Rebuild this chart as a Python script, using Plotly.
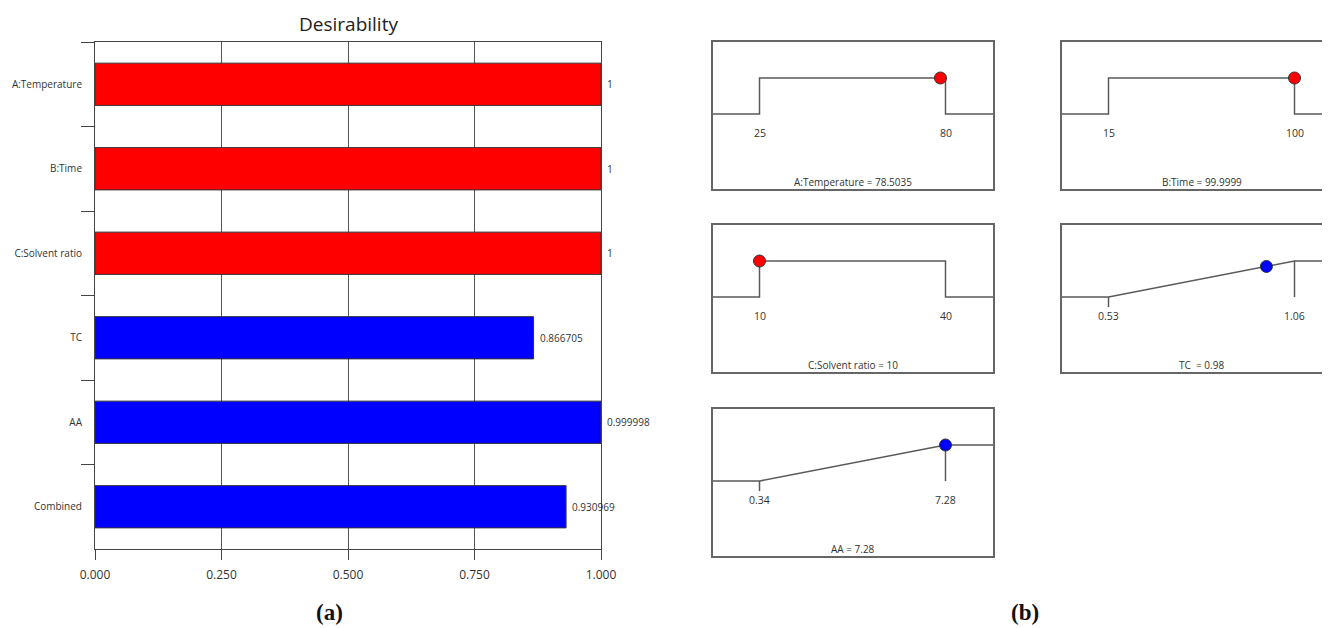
import plotly.graph_objects as go

# ---------------- data ----------------
categories = ["A:Temperature", "B:Time", "C:Solvent ratio", "TC", "AA", "Combined"]
desirability = [1.0, 1.0, 1.0, 0.866705, 0.999998, 0.930969]
bar_colors = ["#FF0000", "#FF0000", "#FF0000", "#0000FF", "#0000FF", "#0000FF"]
x_ticks = [0.0, 0.25, 0.5, 0.75, 1.0]

panel_names = ["A:Temperature", "B:Time", "C:Solvent ratio", "TC ", "AA"]
panel_low = [25, 15, 10, 0.53, 0.34]
panel_high = [80, 100, 40, 1.06, 7.28]
panel_opt = [78.5035, 99.9999, 10, 0.98, 7.28]
panel_kind = ["range", "range", "range", "max", "max"]
panel_color = ["#FF0000", "#FF0000", "#FF0000", "#0000FF", "#0000FF"]

# ---------------- layout helpers ----------------
W, H = 1330, 628
OFF = 8  # page body margin
def px(x):
    return (x - OFF) / W
def py(y):
    return 1 - (y - OFF) / H

FONT = "Open Sans"
TXT = "#333333"
LINE = "#5a5a5a"

fig = go.Figure()

# ---------------- (a) desirability bar chart ----------------
fig.add_trace(go.Bar(
    x=desirability, y=categories, orientation="h",
    marker=dict(color=bar_colors, line=dict(color="#333333", width=1)),
    width=0.5, xaxis="x", yaxis="y", showlegend=False, hoverinfo="x+y",
))
for c, v in zip(categories, desirability):
    fig.add_annotation(x=v, y=c, xref="x", yref="y", text=f"{v:g}", showarrow=False,
                       xanchor="left", xshift=4, font=dict(size=10, color=TXT, family=FONT))

fig.update_layout(
    xaxis=dict(domain=[px(95), px(601)], range=[0, 1], tickvals=x_ticks,
               ticktext=[f"{t:.3f}" for t in x_ticks], ticks="outside", ticklen=10,
               tickcolor="#444", showline=True, linecolor="#444", linewidth=1, mirror=True,
               showgrid=True, gridcolor="#555", gridwidth=1, zeroline=False, automargin=False,
               ticklabelstandoff=5,
               tickfont=dict(size=12, color=TXT, family=FONT), anchor="y", fixedrange=True),
    yaxis=dict(domain=[py(549), py(42)], type="category", autorange="reversed",
               tickson="boundaries", ticks="outside", ticklen=13, tickcolor="#444",
               showline=True, linecolor="#444", linewidth=1, mirror=True, showgrid=False,
               automargin=False, ticklabelstandoff=10,
               tickfont=dict(size=10, color=TXT, family=FONT), anchor="x", fixedrange=True),
)
fig.add_annotation(x=(px(95) + px(601)) / 2, y=py(24), xref="paper", yref="paper",
                   text="Desirability", showarrow=False, xanchor="center", yanchor="middle",
                   font=dict(size=19, color="#222", family=FONT))
fig.add_annotation(x=px(329), y=py(612), xref="paper", yref="paper", text="<b>(a)</b>",
                   showarrow=False, xanchor="center", yanchor="middle",
                   font=dict(size=23, color="#111", family="Liberation Serif"))
fig.add_annotation(x=px(1025), y=py(612), xref="paper", yref="paper", text="<b>(b)</b>",
                   showarrow=False, xanchor="center", yanchor="middle",
                   font=dict(size=23, color="#111", family="Liberation Serif"))

# ---------------- (b) ramp panels ----------------
boxes = [(713, 42, 993), (1062, 42, 1330), (713, 225, 993), (1062, 225, 1330), (713, 409, 993)]
SPAN, INSET, BOXH = 186.0, 46.5, 147.0
Y_TOP, Y_BOT = 2.0, -(BOXH - 72) / 36.0

for i, (name, lo, hi, opt, kind, col, (bl, bt, br)) in enumerate(zip(
        panel_names, panel_low, panel_high, panel_opt, panel_kind, panel_color, boxes)):
    n = i + 2
    d = hi - lo
    x0 = lo - INSET / SPAN * d
    x1 = x0 + (br - bl) / SPAN * d
    xa, ya = f"x{n}", f"y{n}"
    right_cut = br >= W
    fig.layout[f"xaxis{n}"] = dict(domain=[px(bl), px(br)], range=[x0, x1], visible=True,
                                   showticklabels=False, ticks="", showgrid=False, zeroline=False,
                                   showline=True, linecolor="#666", linewidth=1.5, mirror=True,
                                   automargin=False, anchor=ya, fixedrange=True)
    fig.layout[f"yaxis{n}"] = dict(domain=[py(bt + BOXH), py(bt)], range=[Y_BOT, Y_TOP],
                                   showticklabels=False, ticks="", showgrid=False, zeroline=False,
                                   showline=True, linecolor="#666", linewidth=1.5,
                                   automargin=False,
                                   mirror=not right_cut, anchor=xa, fixedrange=True)
    if kind == "range":
        xs = [x0, lo, lo, hi, hi, x1]
        ys = [0, 0, 1, 1, 0, 0]
        fig.add_trace(go.Scatter(x=xs, y=ys, mode="lines", line=dict(color=LINE, width=1.5),
                                 xaxis=xa, yaxis=ya, showlegend=False, hoverinfo="skip"))
        opt_d = 1.0 if lo <= opt <= hi else 0.0
    else:
        xs = [x0, lo, hi, x1]
        ys = [0, 0, 1, 1]
        fig.add_trace(go.Scatter(x=xs, y=ys, mode="lines", line=dict(color=LINE, width=1.5),
                                 xaxis=xa, yaxis=ya, showlegend=False, hoverinfo="skip"))
        fig.add_trace(go.Scatter(x=[hi, hi], y=[1, 0], mode="lines", line=dict(color=LINE, width=1.5),
                                 xaxis=xa, yaxis=ya, showlegend=False, hoverinfo="skip"))
        fig.add_trace(go.Scatter(x=[lo, lo], y=[0, -0.28], mode="lines", line=dict(color=LINE, width=1.5),
                                 xaxis=xa, yaxis=ya, showlegend=False, hoverinfo="skip"))
        opt_d = min(1.0, max(0.0, (opt - lo) / d))
    fig.add_trace(go.Scatter(x=[opt], y=[opt_d], mode="markers",
                             marker=dict(size=12, color=col, line=dict(color="#333", width=1)),
                             xaxis=xa, yaxis=ya, showlegend=False, cliponaxis=False,
                             hovertemplate=f"{name.strip()} = {opt:g}<extra></extra>"))
    for v in (lo, hi):
        fig.add_annotation(x=v, y=-0.53, xref=xa, yref=ya, text=f"{v:g}", showarrow=False,
                           font=dict(size=10.5, color=TXT, family=FONT))
    label = name.replace(" ", "\u00a0") + "\u00a0= " if name.endswith(" ") else name + " = "
    fig.add_annotation(x=(lo + hi) / 2, y=-1.89, xref=xa, yref=ya, text=f"{label}{opt:g}",
                       showarrow=False, font=dict(size=10, color=TXT, family=FONT))

fig.update_layout(
    width=W, height=H, margin=dict(l=0, r=0, t=0, b=0, pad=0, autoexpand=False),
    paper_bgcolor="white", plot_bgcolor="white",
    font=dict(family=FONT, color=TXT), bargap=0.5,
)

fig.write_html("out.html")
